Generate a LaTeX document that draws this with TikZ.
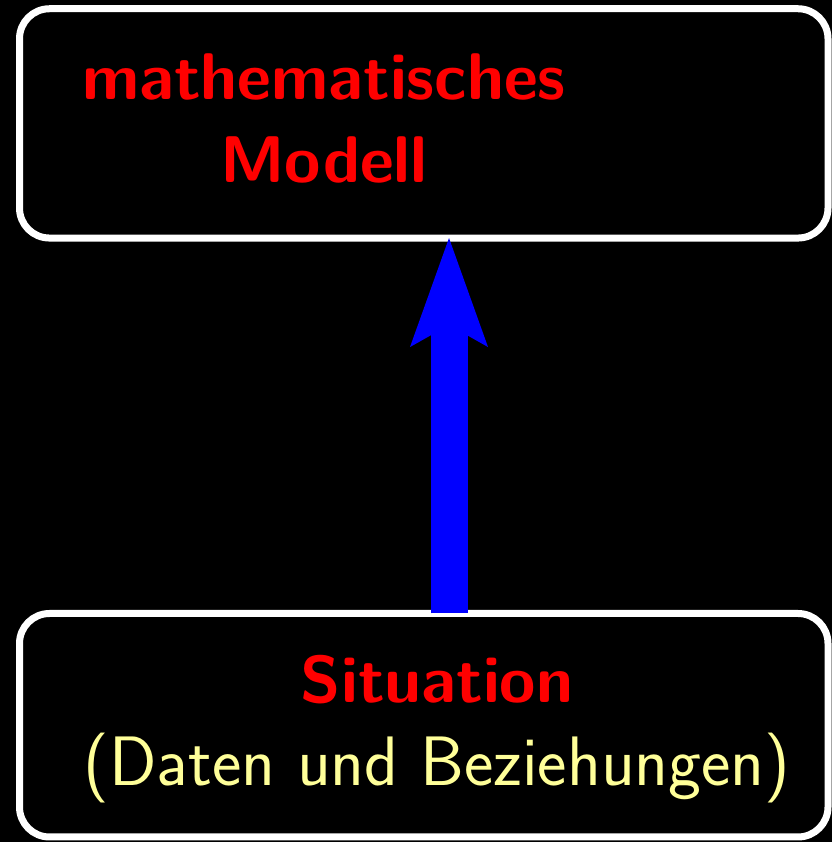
\documentclass[tikz,border=0pt]{standalone}
\usepackage{tikz}
\usetikzlibrary{arrows.meta}
\definecolor{paleyellow}{RGB}{255,255,153}

\begin{document}
\begin{tikzpicture}[x=1pt,y=1pt,
  roundbox/.style={draw=white, line width=7pt, rounded corners=30pt, fill=black, outer sep=0pt, inner sep=0pt},
  redtxt/.style={text=red, font=\fontsize{66}{80}\selectfont\sffamily\bfseries, anchor=base, inner sep=0pt},
  yellowtxt/.style={text=paleyellow, font=\fontsize{70}{84}\selectfont\sffamily, anchor=base, inner sep=0pt},
  bigarrow/.style={draw=blue, line width=37pt, -{Stealth[length=109pt,width=78pt,inset=22pt,line width=0pt]}}]
\useasboundingbox[fill=black] (0,0) rectangle (832,842);
\node[roundbox, minimum width=808.5pt, minimum height=229.3pt] (modell) at (423.75,718.6) {};
\node[roundbox, minimum width=808.5pt, minimum height=223.5pt] (situation) at (423.75,116.75) {};
\node[redtxt] (mathe) at (324,742) {mathematisches};
\node[redtxt] (modelltxt) at (324,659) {Modell};
\node[redtxt] (situtxt) at (437,139) {Situation};
\node[yellowtxt] (daten) at (437,56) {(Daten und Beziehungen)};
\coordinate (ax) at (449,0);
\draw[bigarrow] (situation.north -| ax) -- (modell.south -| ax);
\end{tikzpicture}
\end{document}
